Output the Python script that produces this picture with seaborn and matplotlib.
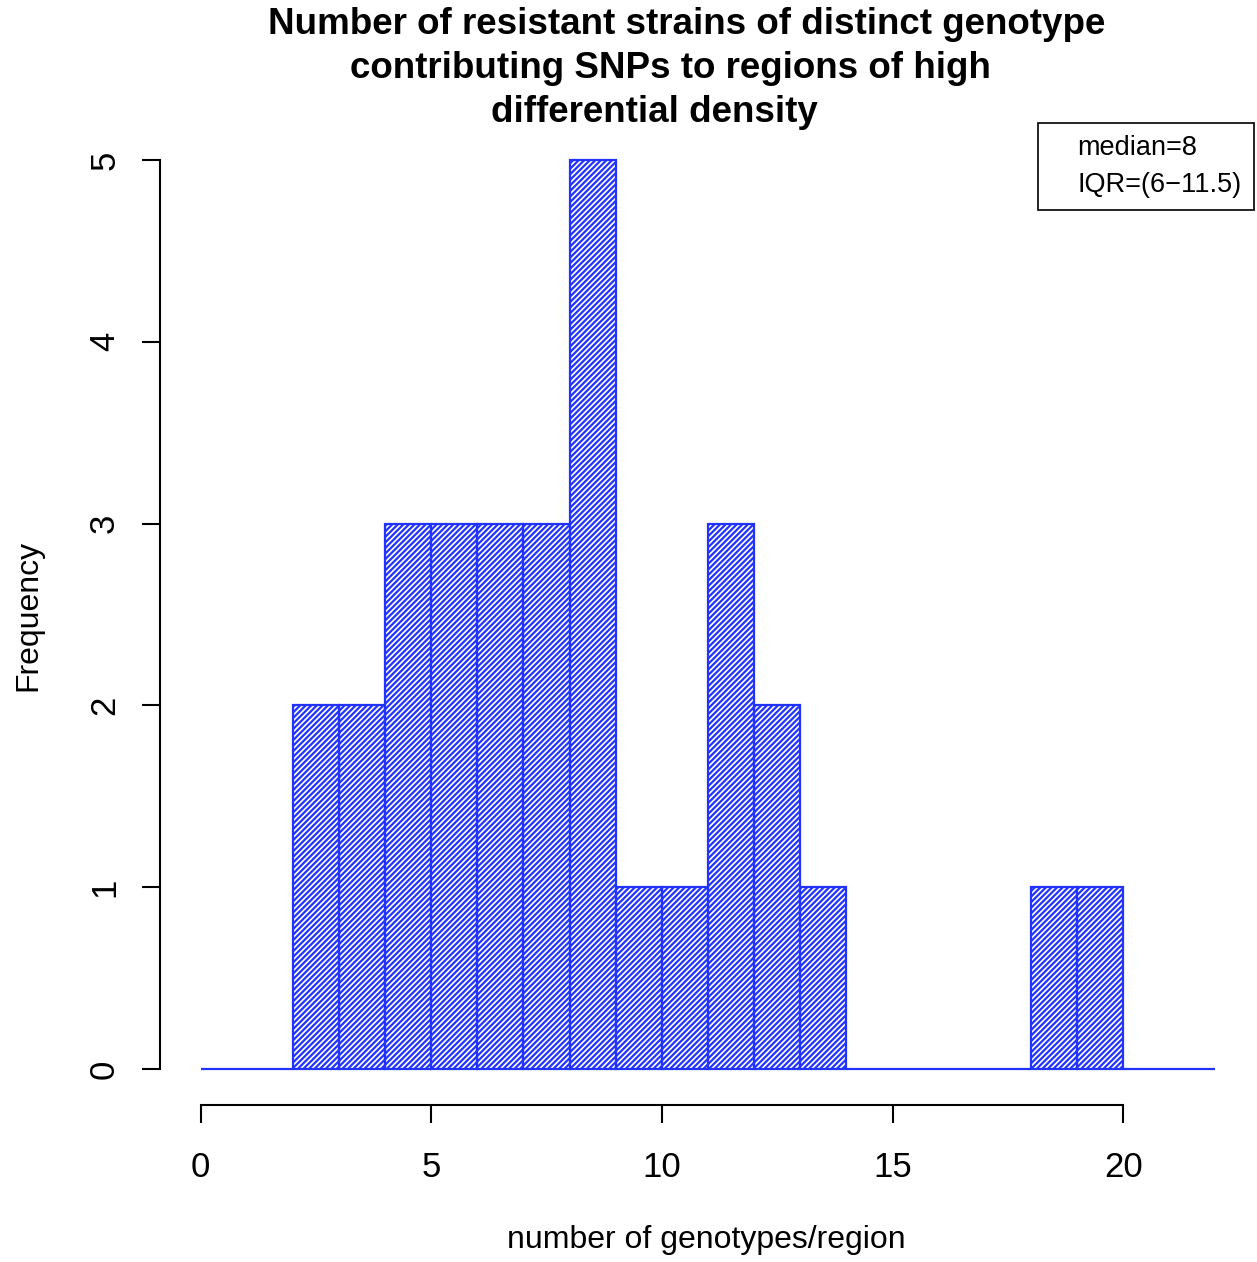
import matplotlib
matplotlib.use("Agg")
import matplotlib.pyplot as plt
import seaborn as sns
import numpy as np
from matplotlib.lines import Line2D

# Data: histogram bins (unit width) and counts
bin_edges = list(range(0, 23))
counts = [0, 0, 2, 2, 3, 3, 3, 3, 5, 1, 1, 3, 2, 1, 0, 0, 0, 0, 1, 1, 0, 0]
x_ticks = [0, 5, 10, 15, 20]
y_ticks = [0, 1, 2, 3, 4, 5]
title_lines = ["Number of resistant strains of distinct genotype",
               "contributing SNPs to regions of high",
               "differential density"]
xlabel = "number of genotypes/region"
ylabel = "Frequency"
legend_lines = ["median=8", "IQR=(6\u221211.5)"]

sns.set_style("white")
plt.rcParams['font.family'] = ['Liberation Sans', 'DejaVu Sans']
plt.rcParams['hatch.linewidth'] = 1.6
plt.rcParams['text.color'] = 'black'
plt.rcParams['axes.labelcolor'] = 'black'
plt.rcParams['xtick.color'] = 'black'
plt.rcParams['ytick.color'] = 'black'

W, H = 1257, 1262
fig = plt.figure(figsize=(W/100, H/100), dpi=100)
ax = fig.add_axes([160/W, (H-1105.4)/H, 1096/W, (1105.4-123.6)/H])

centers = [e + 0.5 for e in bin_edges[:-1]]
sns.histplot(x=centers, weights=counts, bins=bin_edges, ax=ax,
             fill=False, edgecolor="#2233ff", linewidth=1.6, element="bars")
for p in ax.patches:
    p.set_hatch("//////")
    p.set_edgecolor("#2233ff")

ax.set_xlim(-0.88, 22.88)
ax.set_ylim(-0.2, 5.2)
ax.set_xticks(x_ticks)
ax.set_yticks(y_ticks)
ax.set_yticklabels([str(v) for v in y_ticks], rotation=90, va="center")
for s in ["top", "right"]:
    ax.spines[s].set_visible(False)
ax.spines["bottom"].set_bounds(0, 20)
ax.spines["left"].set_bounds(0, 5)
for s in ["bottom", "left"]:
    ax.spines[s].set_color("black")
    ax.spines[s].set_linewidth(1.5)
ax.tick_params(axis="both", which="both", length=13, width=1.5, color="black",
               labelsize=25, bottom=True, left=True)
ax.tick_params(axis="x", pad=20)
ax.tick_params(axis="y", pad=15)
ax.set_xlabel("")
ax.set_ylabel("")
fig.text(706/W, 1 - 1240/H, xlabel, fontsize=23, ha="center", va="center")
fig.text(28/W, 1 - 615/H, ylabel, fontsize=23, ha="center", va="center", rotation=90)

for y, xc, line in zip([25, 69, 112], [687, 670, 654], title_lines):
    fig.text(xc/W, 1 - y/H, line, fontsize=26.5, fontweight="bold",
             ha="center", va="center")

handles = [Line2D([], [], linestyle="none") for _ in legend_lines]
leg = ax.legend(handles, legend_lines, loc="upper right", borderaxespad=0,
                bbox_to_anchor=(1254/W, 1 - 123/H), bbox_transform=fig.transFigure,
                fancybox=False, edgecolor="black", framealpha=1, fontsize=19.5,
                handlelength=0.5, handletextpad=0.5, borderpad=0.45, labelspacing=0.4)
leg.get_frame().set_linewidth(1.2)

fig.savefig("out.png", dpi=100)
